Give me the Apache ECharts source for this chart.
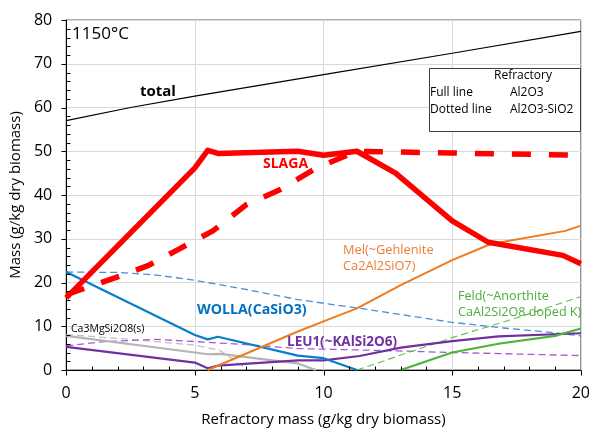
<!DOCTYPE html>
<html><head><meta charset="utf-8">
<script src="https://cdn.jsdelivr.net/npm/echarts@6/dist/echarts.min.js"></script>
<style>html,body{margin:0;padding:0;background:#fff}#c{width:593px;height:432px}</style>
</head><body><div id="c"></div>
<script>
// ---- data (x = refractory mass g/kg, y = mass g/kg) ----
const xTicks = [0, 5, 10, 15, 20];
const yTicks = [0, 10, 20, 30, 40, 50, 60, 70, 80];
const xMinorTicks = [1,2,3,4,6,7,8,9,11,12,13,14,16,17,18,19];
const yMinorTicks = [2,4,6,8,12,14,16,18,22,24,26,28,32,34,36,38,42,44,46,48,52,54,56,58,62,64,66,68,72,74,76,78];
const totalLine = [[0,57],[2.5,60],[5,62.6],[10,67.5],[15,72.4],[20,77.4]];
const slagaFull = [[0,16.5],[5,46.2],[5.5,50.2],[5.9,49.5],[9,50],[10,49.1],[11.3,50],[12.8,45],[15,34.1],[16.4,29.2],[19.3,26.2],[20,24.3]];
const slagaDotted = [[0,17.2],[2,21.3],[3.2,23.9],[4.4,27.7],[5.7,31.8],[7,37.8],[8.3,41.2],[9.7,46.1],[10.8,48.8],[11.3,50],[15,49.6],[20,49.1]];
const wollaFull = [[0,22.4],[5,8.0],[5.5,7.0],[5.9,7.6],[9,3.3],[10,2.7],[11.3,0]];
const wollaDotted = [[0,22.4],[2,22.3],[3.5,21.7],[5,20.5],[7,18.4],[9,16.1],[11.4,14.1],[15,10.9],[17,9.6],[19,8.5],[20,7.8]];
const ca3Full = [[0,7.8],[5,4.0],[5.5,3.6],[6,3.7],[8,2.2],[9,1.5],[9.7,0]];
const ca3Dotted = [[0,8.1],[2.5,7.0],[5,5.7],[5.5,5.1],[6,4.4],[7,0.3]];
const leuFull = [[0,5.3],[5,1.7],[5.5,0.4],[5.9,1.0],[9,2.2],[10,2.2],[11.4,3.2],[13,5.1],[15,6.6],[16.8,7.7],[20,8.4]];
const leuDotted = [[0,5.5],[1.5,6.5],[3.5,7.0],[5,6.5],[7,5.8],[9,4.9],[12,4.5],[15,4.0],[20,3.3]];
const melFull = [[5.5,0],[9,8.8],[10,11.1],[11.3,14.1],[13,19.4],[15,25.1],[16.5,28.8],[19.4,31.8],[20,33]];
const feldFull = [[13,0],[15,4.0],[16.8,6.0],[19,7.8],[20,9.5]];
const feldDotted = [[11.3,0],[15,7.4],[17.5,11.9],[20,16.8]];

const FONT = '"Open Sans", Lato, sans-serif';
const chart = echarts.init(document.getElementById('c'), null, {renderer:'canvas'});

function line(data, color, width, dash, z) {
  return {
    type:'line', data:data, symbol:'none', smooth:false, z:z||2,
    lineStyle:{color:color, width:width, type: dash || 'solid', cap:'butt', join:'round'},
    silent:true, animation:false
  };
}

// tick marks positioned by the axes' own scales:
// kind 0 = x minor (inside, up), 1 = y minor (inside, right), 2 = x major (outside, down), 3 = y major (outside, left)
const tickData = xMinorTicks.map(v => [v, 0, 0])
  .concat(yMinorTicks.map(v => [0, v, 1]))
  .concat(xTicks.map(v => [v, 0, 2]))
  .concat(yTicks.map(v => [0, v, 3]));
const tickSeries = {
  type:'custom', data:tickData, clip:false, silent:true, z:10, animation:false,
  renderItem:function(params, api){
    const p = api.coord([api.value(0), api.value(1)]);
    const k = api.value(2);
    const x0 = Math.round(p[0]) + 0.5, y0 = Math.round(p[1]) + 0.5;
    let shape;
    if (k === 0) shape = {x1:x0, y1:y0, x2:x0, y2:y0-4};
    else if (k === 1) shape = {x1:x0, y1:y0, x2:x0+4, y2:y0};
    else if (k === 2) shape = {x1:x0, y1:y0, x2:x0, y2:y0+5};
    else shape = {x1:x0, y1:y0, x2:x0-5, y2:y0};
    return {type:'line', shape:shape, style:{stroke:'#000', lineWidth:1}};
  }
};

const texts = [
  {left:72, top:26, text:'1150°C', size:17, color:'#000', weight:'normal'},
  {left:140, top:84, text:'total', size:15, color:'#000', weight:'bold'},
  {left:263, top:157, text:'SLAGA', size:14, color:'#ff0000', weight:'bold'},
  {left:197, top:303, text:'WOLLA(CaSiO3)', size:14.2, color:'#0070c0', weight:'bold'},
  {left:287, top:335, text:'LEU1(~KAlSi2O6)', size:13.5, color:'#7030a0', weight:'bold'},
  {left:71, top:324, text:'Ca3MgSi2O8(s)', size:10.5, color:'#000', weight:'normal'},
];

const graphics = texts.map(t => ({
  type:'text', left:t.left, top:t.top, z:50,
  style:{text:t.text, font:`${t.weight} ${t.size}px ${FONT}`, fill:t.color}
}));
graphics.push({type:'text', left:343, top:242, z:50,
  style:{text:'Mel(~Gehlenite\nCa2Al2SiO7)', font:`normal 12.8px ${FONT}`, fill:'#ed7d31', align:'center', lineHeight:16.5}});
graphics.push({type:'text', left:458, top:288, z:50,
  style:{text:'Feld(~Anorthite\nCaAl2Si2O8 doped K)', font:`normal 12.6px ${FONT}`, fill:'#4eac3c', align:'center', lineHeight:16}});
// legend box
graphics.push({type:'rect', left:429, top:68, z:40, shape:{width:151, height:63}, style:{fill:'#fff', stroke:'#404040', lineWidth:1}});
const lg = [
  {left:494, top:70, text:'Refractory'},
  {left:430, top:87, text:'Full line'},
  {left:510, top:87, text:'Al2O3'},
  {left:430, top:104, text:'Dotted line'},
  {left:510, top:104, text:'Al2O3-SiO2'},
];
lg.forEach(t => graphics.push({type:'text', left:t.left, top:t.top, z:45, style:{text:t.text, font:`normal 12px ${FONT}`, fill:'#000'}}));

const option = {
  backgroundColor:'#fff',
  animation:false,
  grid:{left:65, right:10, top:20, bottom:58, show:true, borderColor:'#595959', borderWidth:1, backgroundColor:'transparent'},
  xAxis:{
    type:'value', min:0, max:20, interval:5,
    name:'Refractory mass (g/kg dry biomass)', nameLocation:'middle', nameGap:42,
    nameTextStyle:{fontFamily:FONT, fontSize:15, color:'#000'},
    axisLine:{show:true, lineStyle:{color:'#000', width:1}},
    axisTick:{show:false},
    axisLabel:{fontFamily:FONT, fontSize:16, color:'#000', margin:15, formatter:v => xTicks.includes(v) ? String(v) : ''},
    splitLine:{show:true, lineStyle:{color:'#d9d9d9', width:1}}
  },
  yAxis:{
    type:'value', min:0, max:80, interval:10,
    name:'Mass (g/kg dry biomass)', nameLocation:'middle', nameGap:38,
    nameTextStyle:{fontFamily:FONT, fontSize:15, color:'#000'},
    axisLine:{show:true, lineStyle:{color:'#000', width:1}},
    axisTick:{show:false},
    axisLabel:{fontFamily:FONT, fontSize:16, color:'#000', margin:14, formatter:v => yTicks.includes(v) ? String(v) : ''},
    splitLine:{show:true, lineStyle:{color:'#d9d9d9', width:1}}
  },
  series:[
    tickSeries,
    line(totalLine, '#000', 1.2),
    line(wollaDotted, '#4a8fdc', 1.3, [7,4]),
    line(ca3Dotted, '#bfbfbf', 1.3, [7,4]),
    line(leuDotted, '#a65ad6', 1.3, [7,4]),
    line(feldDotted, '#5cbf45', 1.1, [7,4]),
    line(ca3Full, '#b4b4b4', 2.2),
    line(leuFull, '#7030a0', 2.2),
    line(wollaFull, '#0a7ccc', 2.2),
    line(melFull, '#f07a1e', 2),
    line(feldFull, '#4cb33c', 2.2),
    line(slagaDotted, '#ff0000', 5.5, [19,18], 5),
    line(slagaFull, '#ff0000', 5.5, 'solid', 6)
  ],
  graphic: graphics
};
chart.setOption(option);
</script></body></html>
